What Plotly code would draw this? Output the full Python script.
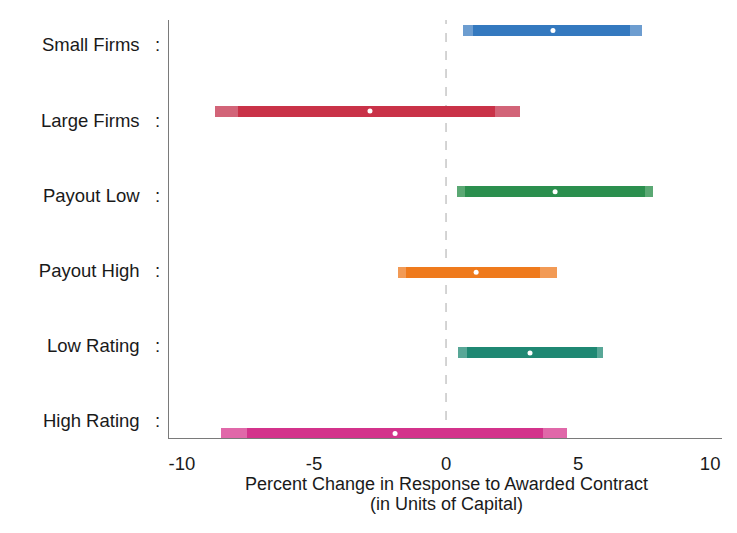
import numpy as np
import plotly.graph_objects as go

# Subgroup estimates with confidence bands
groups = ["Small Firms", "Large Firms", "Payout Low", "Payout High", "Low Rating", "High Rating"]
estimate = [4.05, -2.88, 4.13, 1.14, 3.18, -1.93]
ci_outer_lo = [0.64, -8.75, 0.42, -1.82, 0.45, -8.52]
ci_outer_hi = [7.42, 2.80, 7.84, 4.20, 5.95, 4.58]
ci_inner_lo = [1.02, -7.88, 0.72, -1.50, 0.80, -7.54]
ci_inner_hi = [6.97, 1.86, 7.54, 3.56, 5.70, 3.67]
colors_dark = ["#3479bf", "#c93248", "#2b8f4e", "#ef7a1c", "#1f8873", "#d3338b"]
colors_light = ["#6d9dd0", "#d26478", "#5aa873", "#f29a55", "#58a797", "#e068a9"]
x_ticks = [-10, -5, 0, 5, 10]
x_title = ["Percent Change in Response to Awarded Contract", "(in Units of Capital)"]

pos = np.arange(len(groups))
label_pos = np.linspace(0.18, 4.845, len(groups))

fig = go.Figure()
bar_w = 0.135
for i, g in enumerate(groups):
    fig.add_trace(go.Bar(
        y=[pos[i]], x=[ci_outer_hi[i] - ci_outer_lo[i]], base=[ci_outer_lo[i]],
        orientation="h", width=bar_w, marker=dict(color=colors_light[i], line=dict(width=0)),
        showlegend=False, hoverinfo="skip"))
    fig.add_trace(go.Bar(
        y=[pos[i]], x=[ci_inner_hi[i] - ci_inner_lo[i]], base=[ci_inner_lo[i]],
        orientation="h", width=bar_w, marker=dict(color=colors_dark[i], line=dict(width=0)),
        showlegend=False, name=g))

fig.add_trace(go.Scatter(
    x=estimate, y=pos, mode="markers",
    marker=dict(color="white", size=5, line=dict(width=0)),
    showlegend=False))

# Zero reference line
fig.add_shape(type="line", xref="x", yref="paper", x0=0, x1=0, y0=0, y1=1,
              line=dict(color="#b8b8b8", width=1.2, dash="dash"), layer="below")

font = dict(family="Liberation Sans, Arial, sans-serif", size=18.5, color="#1a1a1a")
title_font = dict(font, size=18)

# Two-line axis title with tight line spacing
for k, line in enumerate(x_title):
    fig.add_annotation(text=line, xref="x", yref="paper", x=0, y=0,
                       yshift=-(46 + 20 * k), xanchor="center", yanchor="middle",
                       showarrow=False, font=title_font)

fig.update_layout(
    width=737, height=533,
    margin=dict(l=169, r=15, t=20, b=95),
    paper_bgcolor="white", plot_bgcolor="white",
    barmode="overlay", bargap=0,
    font=font,
    xaxis=dict(
        range=[-10.49, 10.45], tickvals=x_ticks, ticktext=[str(v) for v in x_ticks],
        showgrid=False, zeroline=False, showline=True, linecolor="#7a7a7a", linewidth=1.3,
        ticks="", ticklabelstandoff=9,
    ),
    yaxis=dict(
        range=[5.056, -0.13], tickvals=label_pos,
        ticktext=[g + "\u00a0\u00a0\u00a0:" for g in groups],
        showgrid=False, zeroline=False, showline=True, linecolor="#7a7a7a", linewidth=1.3,
        ticks="", ticklabelstandoff=4,
    ),
)

fig.write_html("out.html")
